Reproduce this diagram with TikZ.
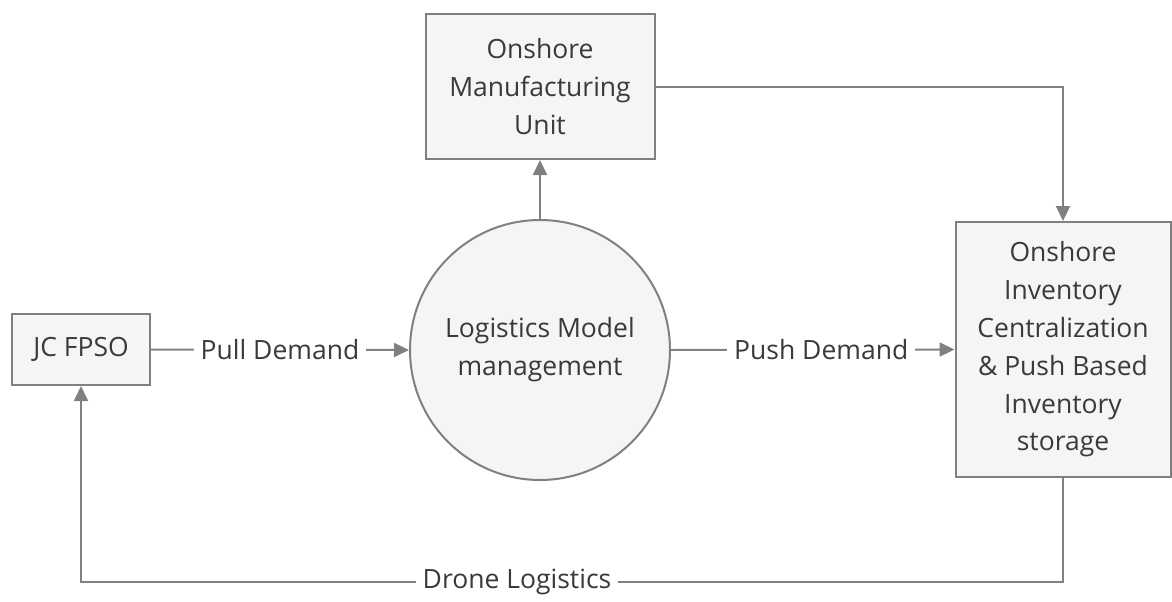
\documentclass[tikz,border=0pt]{standalone}
\usepackage{fontspec}
\setmainfont{Open Sans}
\usetikzlibrary{arrows.meta,positioning}
\definecolor{edgegray}{HTML}{808080}
\definecolor{boxfill}{HTML}{F5F5F5}
\definecolor{txtgray}{HTML}{3A3A3A}
\begin{document}
\begin{tikzpicture}[x=1pt,y=-1pt,
  every node/.style={text=txtgray,font=\fontsize{26.5}{37.8}\selectfont},
  procbox/.style={draw=edgegray,line width=2pt,fill=boxfill,align=center,inner sep=0pt},
  hub/.style={circle,draw=edgegray,line width=2pt,fill=boxfill,align=center,minimum size=260pt,inner sep=0pt},
  flow/.style={draw=edgegray,line width=2pt,-{Triangle[length=15pt,width=14pt]}},
  flowlabel/.style={fill=white,inner xsep=7pt,inner ysep=2pt}]
\useasboundingbox (0,0) rectangle (1172,602);

% nodes
\node[procbox,minimum width=138pt,minimum height=71pt] (fpso) at (81,349.5) {JC FPSO};
\node[hub] (lmm) at (540,350) {Logistics Model\\management};
\node[procbox,minimum width=229pt,minimum height=145pt] (mfg) at (540,86.5) {Onshore\\Manufacturing\\Unit};
\node[procbox,minimum width=215pt,minimum height=255pt] (inv) at (1063,349.5)
  {Onshore\\Inventory\\Centralization\\\& Push Based\\Inventory\\storage};

% connectors
\draw[flow] (fpso.east) -- node[flowlabel] {Pull Demand} (lmm.west);
\draw[flow] (lmm.east) -- node[flowlabel,pos=0.53] {Push Demand} (inv.west);
\draw[flow] (lmm.north) -- (mfg.south);
\draw[flow] (mfg.east) -| (inv.north);
\coordinate (dr) at (inv.south |- 0,582);
\coordinate (dl) at (fpso.south |- 0,582);
\draw[flow] (inv.south) -- (dr) -- (dl) -- (fpso.south);
\node[flowlabel] (drone) at (517,582) {Drone Logistics};
\end{tikzpicture}
\end{document}
